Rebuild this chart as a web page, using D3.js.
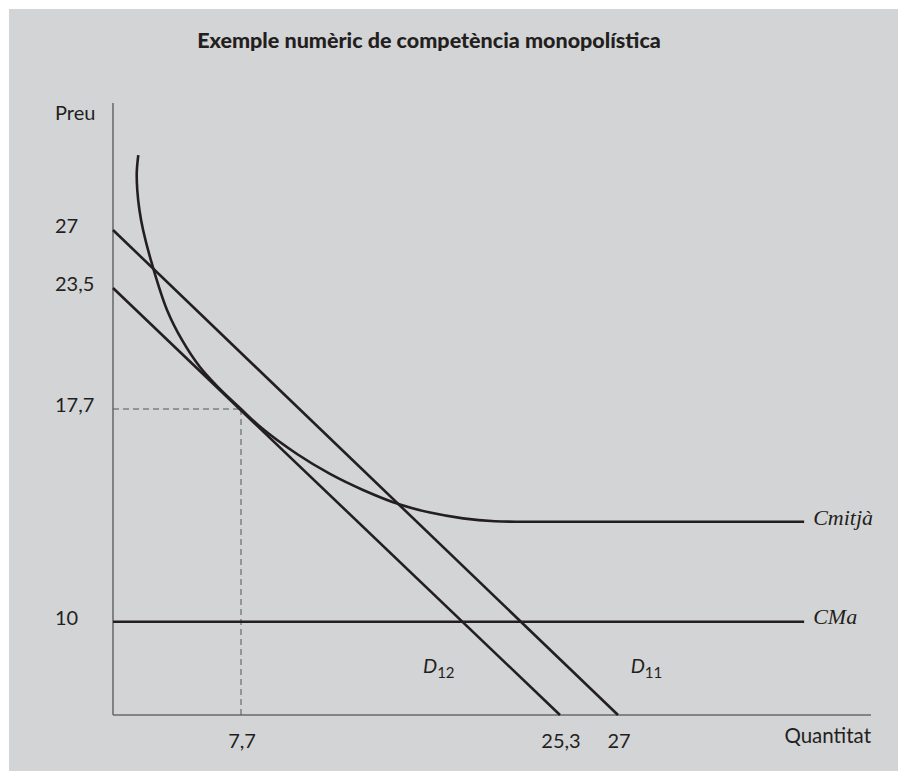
<!DOCTYPE html>
<html lang="ca">
<head>
<meta charset="utf-8">
<title>Exemple numèric de competència monopolística</title>
<script type="text/javascript" src="https://d3js.org/d3.v7.min.js"></script>
<style>
  body { margin: 0; background: #fff; }
  text { font-family: Lato, "Open Sans", sans-serif; fill: #231f20; }
  .serif { font-family: "Liberation Serif", "DejaVu Serif", serif; font-style: italic; }
</style>
</head>
<body>
<div id="container"></div>
<script type="text/javascript">

var w = 907;
var h = 780;

// data
var title = "Exemple numèric de competència monopolística";
var xTicks = [7.7, 25.3, 27];
var yTicks = [10, 17.7, 23.5, 27];
var xMax = 41, yMax = 35;   // axis ends
var demand11 = [[0, 27], [27, 0]];
var demand12 = [[0, 23.5], [25.3, 0]];
var cma = 10;
// coste mitja (average cost) curve
var cmitja = [
  [1.52, 31.72], [1.43, 30.65], [1.46, 29.52], [1.59, 28.26], [1.81, 27.0],
  [2.38, 24.83], [3.25, 22.45], [4.15, 21.01], [5.23, 19.71], [6.26, 18.80],
  [7.7, 17.7], [8.86, 17.0], [10.79, 16.07], [12.61, 15.35], [14.43, 14.77],
  [16.47, 14.24], [18.13, 13.95], [19.95, 13.74], [21.71, 13.635], [23.65, 13.62],
  [37.3, 13.62]
];
var tangent = [7.7, 17.7];
var lineEndX = 37.3;

var fmt = function(d) { return String(d).replace(".", ","); };

var svg = d3.select("div#container").append("svg")
  .attr("width", w).attr("height", h);

svg.append("rect").attr("x", 9).attr("y", 9).attr("width", 889).attr("height", 762)
  .attr("fill", "#d3d4d6");

// schematic (not to scale) axes: piecewise linear scales through the tick values
var x = d3.scaleLinear()
  .domain([0].concat(xTicks, [xMax]))
  .range([113, 241, 560, 618, 871]);
var y = d3.scaleLinear()
  .domain([0].concat(yTicks, [yMax]))
  .range([715, 621.7, 409, 288, 230, 103]);

svg.append("text").attr("x", 429).attr("y", 48).attr("text-anchor", "middle")
  .style("font-size", "21.5px").style("font-weight", 900).text(title);

// axes
svg.append("line").attr("x1", x(0)).attr("x2", x(0)).attr("y1", y(yMax)).attr("y2", y(0))
  .attr("stroke", "#4a4a4a").attr("stroke-width", 1.2);
svg.append("line").attr("x1", x(0)).attr("x2", x(xMax)).attr("y1", y(0)).attr("y2", y(0))
  .attr("stroke", "#6a6a6a").attr("stroke-width", 1.4);

svg.append("text").attr("x", 55).attr("y", 120).style("font-size", "20px").text("Preu");
svg.append("text").attr("x", x(xMax)).attr("y", 743).attr("text-anchor", "end")
  .style("font-size", "20.5px").text("Quantitat");

svg.selectAll(".ytick").data(yTicks).enter().append("text")
  .attr("class", "ytick").attr("x", 55).attr("y", d => y(d) + 3)
  .style("font-size", "20px").text(fmt);
svg.selectAll(".xtick").data(xTicks).enter().append("text")
  .attr("class", "xtick").attr("x", d => x(d) + 1).attr("y", 748).attr("text-anchor", "middle")
  .style("font-size", "20px").text(fmt);

// dashed guides to the tangency point
var guide = svg.append("g").attr("stroke", "#555").attr("stroke-width", 1).attr("stroke-dasharray", "6,4");
guide.append("line").attr("x1", x(0)).attr("x2", x(tangent[0])).attr("y1", y(tangent[1])).attr("y2", y(tangent[1]));
guide.append("line").attr("x1", x(tangent[0])).attr("x2", x(tangent[0])).attr("y1", y(tangent[1])).attr("y2", y(0));

var line = d3.line().x(d => x(d[0])).y(d => y(d[1]));
var curve = d3.line().x(d => x(d[0])).y(d => y(d[1])).curve(d3.curveCatmullRom.alpha(0.5));

svg.append("path").attr("d", line(demand11)).attr("fill", "none").attr("stroke", "#231f20").attr("stroke-width", 2.6);
svg.append("path").attr("d", line(demand12)).attr("fill", "none").attr("stroke", "#231f20").attr("stroke-width", 2.6);
svg.append("path").attr("d", line([[0, cma], [lineEndX, cma]])).attr("fill", "none").attr("stroke", "#231f20").attr("stroke-width", 2.6);
svg.append("path").attr("d", curve(cmitja)).attr("fill", "none").attr("stroke", "#231f20").attr("stroke-width", 2.6);

// labels
svg.append("text").attr("class", "serif").attr("x", x(lineEndX) + 9).attr("y", y(cmitja[cmitja.length - 1][1]) + 3)
  .style("font-size", "22px").text("Cmitjà");
svg.append("text").attr("class", "serif").attr("x", x(lineEndX) + 9).attr("y", y(cma) + 2)
  .style("font-size", "22px").text("CMa");

function dLabel(xv, sub) {
  var t = svg.append("text").attr("x", x(xv)).attr("y", 673).style("font-size", "20px");
  t.append("tspan").style("font-style", "italic").text("D");
  t.append("tspan").attr("dy", 5).style("font-size", "15px").text(sub);
}
dLabel(17.74, "12");
dLabel(27.7, "11");

</script>
</body>
</html>
